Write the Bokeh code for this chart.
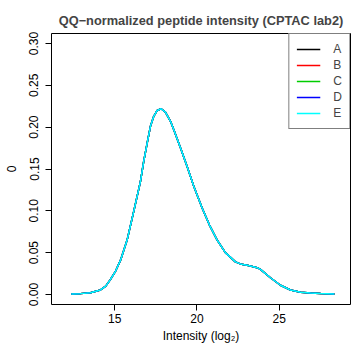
from bokeh.plotting import figure
from bokeh.models import Range1d, FixedTicker, PrintfTickFormatter, Legend, LegendItem
from bokeh.embed import file_html
from bokeh.resources import INLINE

# ---- data ----
samples = ["A", "B", "C", "D", "E"]
colors = ["black", "red", "#00CD00", "blue", "cyan"]

intensity = [12.35, 12.9, 13.52, 14.13, 14.45, 14.74, 15.05, 15.35, 15.75, 16.16,
             16.56, 16.76, 16.97, 17.17, 17.37, 17.58, 17.82, 18.08, 18.39, 18.59,
             19.00, 19.40, 19.81, 20.32, 20.76, 21.23, 21.73, 22.34, 22.71, 23.05,
             23.25, 23.66, 23.86, 24.47, 25.08, 25.69, 26.30, 26.91, 27.52, 28.36]
density = [0.0005, 0.0010, 0.0020, 0.0054, 0.010, 0.018, 0.028, 0.041, 0.065, 0.100,
           0.135, 0.159, 0.181, 0.201, 0.213, 0.220, 0.222, 0.218, 0.207, 0.197,
           0.175, 0.153, 0.129, 0.103, 0.083, 0.065, 0.050, 0.039, 0.036, 0.035,
           0.034, 0.032, 0.030, 0.020, 0.011, 0.0054, 0.0026, 0.0018, 0.0012, 0.0005]
# after QQ normalisation all five samples share the same distribution
series = {s: density for s in samples}

x_ticks = [15, 20, 25]
y_ticks = [0.0, 0.05, 0.10, 0.15, 0.20, 0.25, 0.30]

FONT = "Liberation Sans"

p = figure(width=351, height=345, output_backend="svg", toolbar_location=None,
           x_range=Range1d(11.15, 29.34), y_range=Range1d(-0.012, 0.312),
           min_border_left=51, min_border_right=1, min_border_top=33, min_border_bottom=41,
           title="QQ\u2212normalized peptide intensity (CPTAC lab2)")

p.title.text_font = FONT
p.title.text_font_size = "12.8px"
p.title.text_font_style = "bold"
p.title.align = "center"
p.title.vertical_align = "middle"
p.title.standoff = 10

p.xgrid.visible = False
p.ygrid.visible = False
p.outline_line_color = "black"
p.outline_line_width = 1
p.background_fill_color = "white"
p.border_fill_color = "white"

items = []
for s, c in zip(samples, colors):
    r = p.line(intensity, series[s], line_color=c, line_width=1.5)
    items.append(LegendItem(label=s, renderers=[r]))

legend = Legend(items=items, location="top_right", margin=0, padding=7,
                spacing=0, glyph_width=24, glyph_height=16, label_height=16,
                label_width=8, label_standoff=13, label_text_font=FONT,
                label_text_font_size="12px",
                border_line_color="black", border_line_width=1,
                background_fill_color="white", background_fill_alpha=1.0)
p.add_layout(legend)

for ax in (p.xaxis[0], p.yaxis[0]):
    ax.axis_line_color = None
    ax.major_tick_line_color = "black"
    ax.major_tick_out = 6
    ax.major_tick_in = 0
    ax.minor_tick_line_color = None
    ax.major_label_text_font = FONT
    ax.major_label_text_font_size = "12px"
    ax.major_label_text_color = "black"
    ax.axis_label_text_font = FONT
    ax.axis_label_text_font_size = "12px"
    ax.axis_label_text_font_style = "normal"
    ax.axis_label_text_color = "black"

p.xaxis.ticker = FixedTicker(ticks=x_ticks)
p.xaxis.major_label_standoff = 3
p.xaxis.axis_label = "Intensity (log\u2082)"
p.xaxis.axis_label_standoff = 3

p.yaxis.ticker = FixedTicker(ticks=y_ticks)
p.yaxis.formatter = PrintfTickFormatter(format="%.2f")
p.yaxis.major_label_orientation = "vertical"
p.yaxis.major_label_standoff = 7
p.yaxis.axis_label = "0"
p.yaxis.axis_label_standoff = 11

open("out.html", "w").write(file_html(p, INLINE))
